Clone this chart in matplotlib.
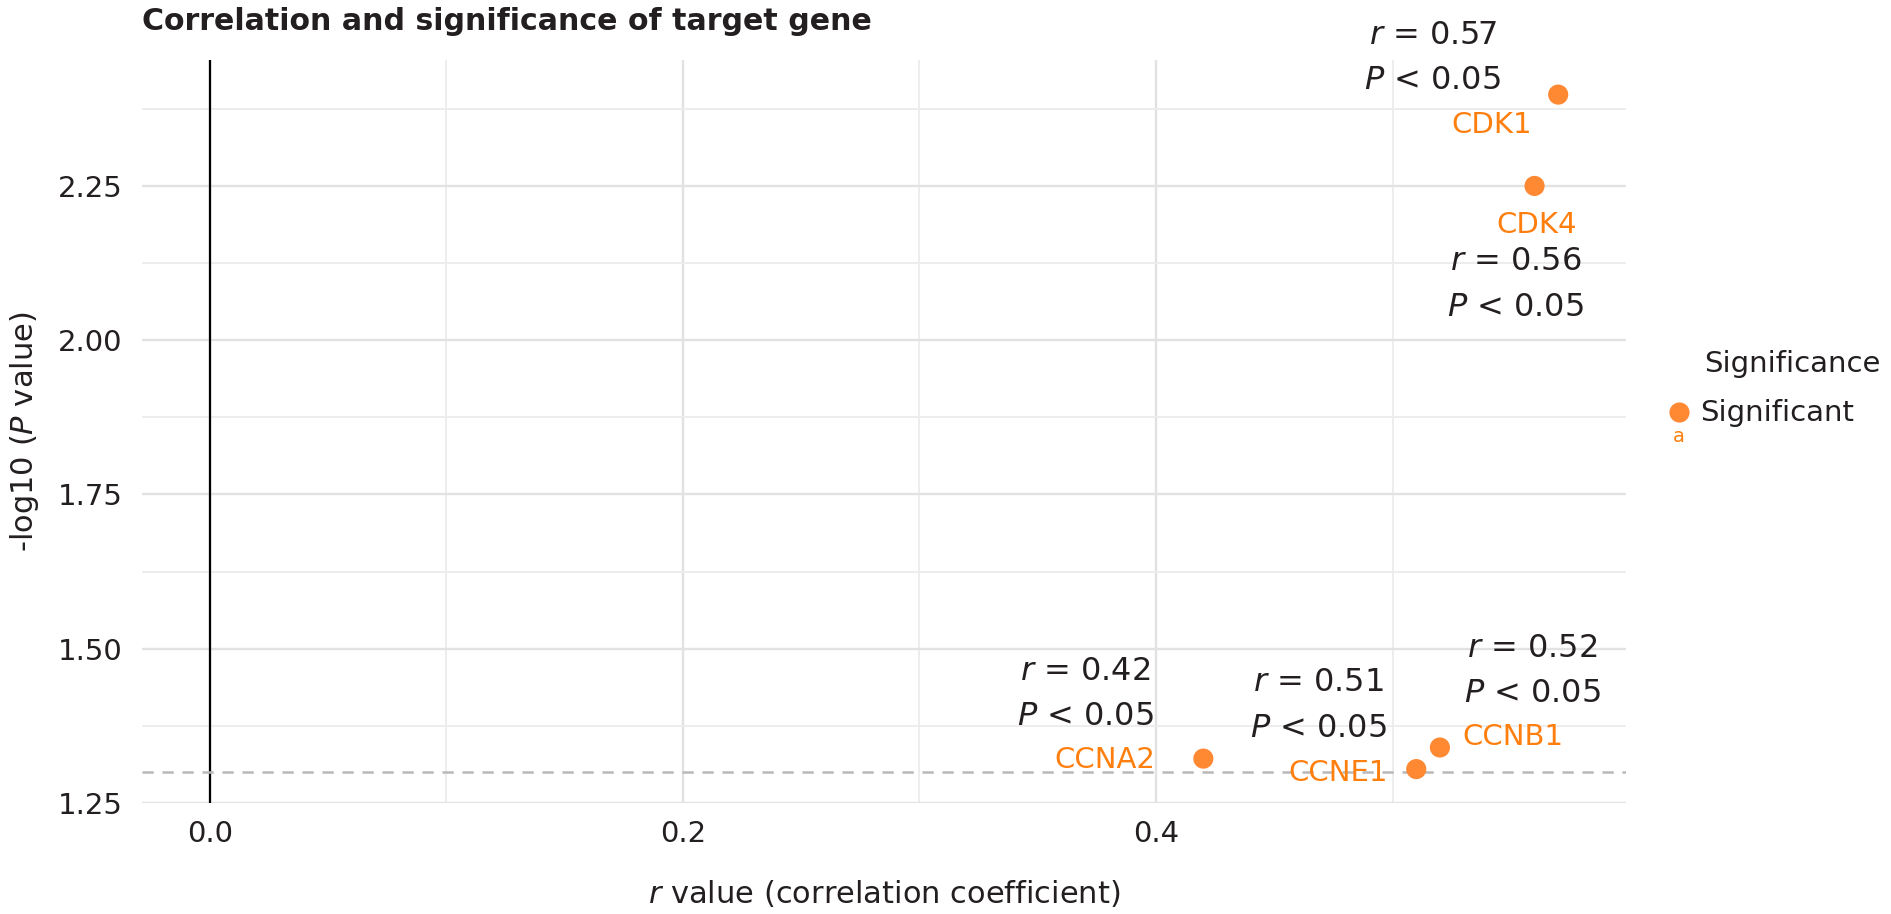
import matplotlib
matplotlib.use("Agg")
import matplotlib.pyplot as plt
from matplotlib.lines import Line2D
from matplotlib.ticker import MultipleLocator, FormatStrFormatter
import numpy as np

genes = ["CDK1", "CDK4", "CCNA2", "CCNE1", "CCNB1"]
r_values = [0.57, 0.56, 0.42, 0.51, 0.52]
neglog_p = [2.398, 2.250, 1.322, 1.305, 1.340]
r_labels = ["0.57", "0.56", "0.42", "0.51", "0.52"]
p_labels = ["0.05", "0.05", "0.05", "0.05", "0.05"]
# label positions (repel-style offsets) in data coords
gene_lab_x = [0.542, 0.561, 0.3785, 0.477, 0.551]
gene_lab_y = [2.348, 2.186, 1.320, 1.299, 1.357]
ann_x = [0.517, 0.552, 0.370, 0.4685, 0.559]
ann_y = [2.457, 2.090, 1.427, 1.408, 1.464]
threshold = -np.log10(0.05)
legend_title = "Significance"
legend_label = "Significant"

orange = "#FF8833"
orange_txt = "#FF7F0E"
dark = "#231F20"

plt.rcParams['font.family'] = ['DejaVu Sans']
fig = plt.figure(figsize=(18.91, 9.14), dpi=100)
ax = fig.add_axes([0.07526, 0.1214, 0.7844, 0.8127])

ax.set_xlim(-0.0285, 0.5985)
ax.set_ylim(1.25, 2.4537)

ax.xaxis.set_major_locator(MultipleLocator(0.2))
ax.xaxis.set_minor_locator(MultipleLocator(0.1))
ax.yaxis.set_major_locator(MultipleLocator(0.25))
ax.yaxis.set_minor_locator(MultipleLocator(0.125))
ax.grid(which='major', color='#E2E2E2', linewidth=1.7, zorder=0)
ax.grid(which='minor', color='#ECECEC', linewidth=1.3, zorder=0)
ax.set_axisbelow(True)
for s in ax.spines.values():
    s.set_visible(False)
ax.tick_params(which='both', length=0, labelsize=21, colors=dark)
ax.tick_params(axis='x', pad=12)
ax.tick_params(axis='y', pad=14)
ax.xaxis.set_major_formatter(FormatStrFormatter('%.1f'))
ax.yaxis.set_major_formatter(FormatStrFormatter('%.2f'))

ax.axvline(0, color='black', linewidth=1.6, zorder=1)
ax.axhline(threshold, color='#B8B8B8', linestyle=(0, (4.5, 3.5)), linewidth=1.8, zorder=1)

ax.scatter(r_values, neglog_p, s=210, color=orange, edgecolors='none', zorder=3)

for i, g in enumerate(genes):
    ax.text(gene_lab_x[i], gene_lab_y[i], g, color=orange_txt, fontsize=21,
            ha='center', va='center', zorder=4)
    ax.text(ann_x[i], ann_y[i], f"$\\it{{r}}$ = {r_labels[i]}\n$\\it{{P}}$ < {p_labels[i]}",
            color=dark, fontsize=23, ha='center', va='center', linespacing=1.6, zorder=4)

ax.set_xlabel("$\\it{r}$ value (correlation coefficient)", fontsize=22, color=dark)
ax.xaxis.set_label_coords(0.5, -0.101)
ax.set_ylabel("-log10 ($\\it{P}$ value)", fontsize=22, color=dark)
ax.yaxis.set_label_coords(-0.0683, 0.5)

fig.text(142 / 1891, 1 - 22 / 914, "Correlation and significance of target gene", fontsize=21.6,
         fontweight='bold', color=dark, ha='left', va='center')

# legend (drawn manually to mimic ggplot layout)
fig.add_artist(Line2D([1679 / 1891], [1 - 412 / 914], transform=fig.transFigure,
                      marker='o', linestyle='none', markersize=14.5,
                      markerfacecolor=orange, markeredgecolor='none'))
fig.text(1679 / 1891, 1 - 437 / 914, "a", color=orange_txt, fontsize=14,
         ha='center', va='center')
fig.text(1700 / 1891, 1 - 413 / 914, legend_label, color=dark, fontsize=21,
         ha='left', va='center')
fig.text(1704 / 1891, 1 - 364 / 914, legend_title, color=dark, fontsize=21,
         ha='left', va='center')

fig.savefig("out.png", dpi=100)
